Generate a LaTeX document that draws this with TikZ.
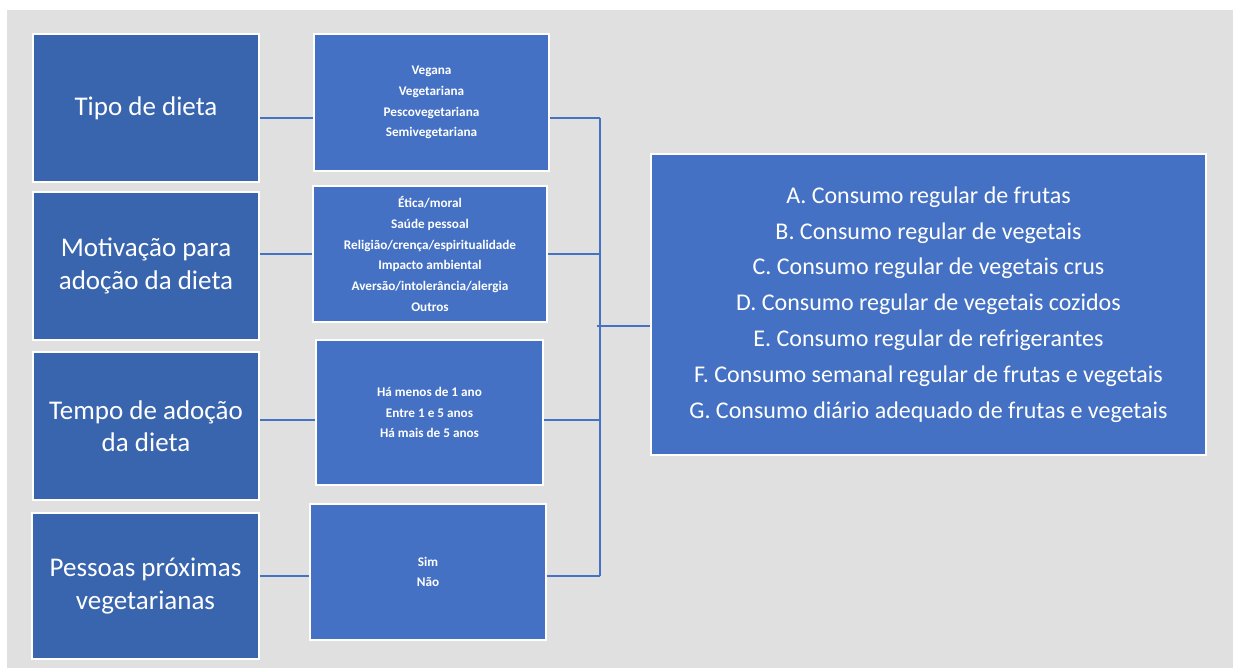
\documentclass[tikz,border=0pt]{standalone}
\usepackage{fontspec}
\setmainfont{Carlito}
\definecolor{bggray}{HTML}{E0E0E0}
\definecolor{darkbox}{HTML}{3964AE}
\definecolor{midbox}{HTML}{4471C3}
\definecolor{linkblue}{HTML}{4472C4}
\tikzset{
  basebox/.style={rectangle, draw=white, line width=1.2pt, text=white, align=center, inner sep=0pt},
  catbox/.style={basebox, fill=darkbox, font=\fontsize{27}{32.5}\selectfont},
  optbox/.style={basebox, fill=midbox, font=\bfseries\fontsize{13.2}{20.8}\selectfont},
  outbox/.style={basebox, fill=midbox, font=\fontsize{24}{35.8}\selectfont},
  link/.style={draw=linkblue, line width=1.5pt}
}
\begin{document}
\begin{tikzpicture}[x=1pt,y=-1pt]
\useasboundingbox (0,0) rectangle (1233,668);
\fill[bggray] (7,10) rectangle (1233,668);

% category boxes
\node[catbox, minimum width=226pt, minimum height=148pt] (L1) at (146,108) {Tipo de dieta};
\node[catbox, minimum width=226pt, minimum height=148pt] (L2) at (146,266) {Motivação para\\adoção da dieta};
\node[catbox, minimum width=226pt, minimum height=148pt] (L3) at (146,426) {Tempo de adoção\\da dieta};
\node[catbox, minimum width=227pt, minimum height=146pt] (L4) at (145.5,586) {Pessoas próximas\\vegetarianas};

% option boxes
\node[optbox, minimum width=235pt, minimum height=137pt] (M1) at (431.5,102.5) {Vegana\\Vegetariana\\Pescovegetariana\\Semivegetariana};
\node[optbox, minimum width=234pt, minimum height=136pt] (M2) at (430,254) {Ética/moral\\Saúde pessoal\\Religião/crença/espiritualidade\\Impacto ambiental\\Aversão/intolerância/alergia\\Outros};
\node[optbox, minimum width=227pt, minimum height=145pt] (M3) at (429.5,412.5) {Há menos de 1 ano\\Entre 1 e 5 anos\\Há mais de 5 anos};
\node[optbox, minimum width=236pt, minimum height=136pt] (M4) at (428,572) {Sim\\Não};

% outcome box
\node[outbox, minimum width=555pt, minimum height=301pt] (R) at (928.5,304.5) {A. Consumo regular de frutas\\B. Consumo regular de vegetais\\C. Consumo regular de vegetais crus\\D. Consumo regular de vegetais cozidos\\E. Consumo regular de refrigerantes\\F. Consumo semanal regular de frutas e vegetais\\G. Consumo diário adequado de frutas e vegetais};

% bus coordinates
\coordinate (b1) at (600,118);
\coordinate (b2) at (600,254);
\coordinate (b3) at (600,420);
\coordinate (b4) at (600,576);
\coordinate (bj) at (600,326);
\coordinate (bjs) at (597,326);

% connectors left -> middle
\draw[link] (L1.east |- b1) -- (M1.west |- b1);
\draw[link] (L2.east |- b2) -- (M2.west |- b2);
\draw[link] (L3.east |- b3) -- (M3.west |- b3);
\draw[link] (L4.east |- b4) -- (M4.west |- b4);

% connectors middle -> bus
\draw[link] (M1.east |- b1) -- (b1);
\draw[link] (M2.east |- b2) -- (b2);
\draw[link] (M3.east |- b3) -- (b3);
\draw[link] (M4.east |- b4) -- (b4);
\draw[link] (b1) -- (b4);
\draw[link] (bjs) -- (R.west |- bj);
\end{tikzpicture}
\end{document}
